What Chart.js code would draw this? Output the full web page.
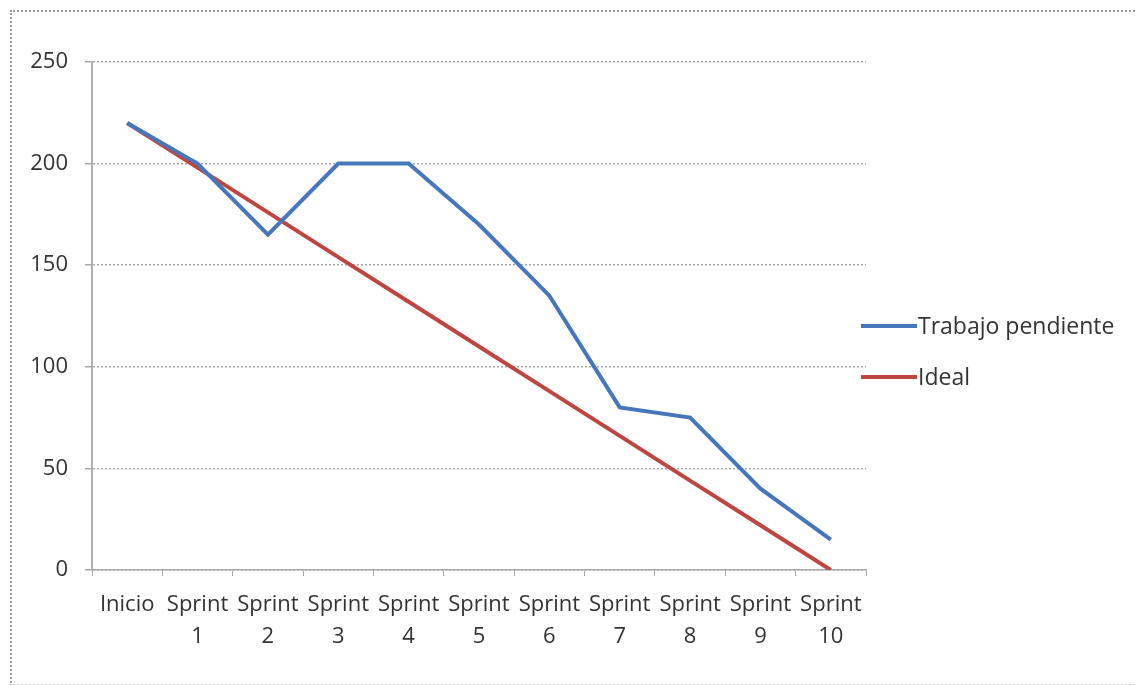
<!DOCTYPE html>
<html>
<head>
<meta charset="utf-8">
<script src="https://cdn.jsdelivr.net/npm/chart.js@4"></script>
<style>
  html, body { margin: 0; padding: 0; background: #fff; overflow: hidden; }
  #wrap { position: relative; width: 1135px; height: 685px; }
  #frame { position: absolute; left: 10px; top: 10px; width: 1135px; height: 672px;
           border-left: 2px dotted #9a9a9a; border-top: 2px dotted #9a9a9a; border-bottom: 2px dotted #d0d0d0; }
  canvas { position: absolute; left: 0; top: 0; }
</style>
</head>
<body>
<div id="wrap">
  <div id="frame"></div>
  <canvas id="c" width="1135" height="685"></canvas>
</div>
<script>
// Burndown: remaining work per sprint vs. the ideal line
const categories = ['Inicio', ['Sprint', '1'], ['Sprint', '2'], ['Sprint', '3'], ['Sprint', '4'],
  ['Sprint', '5'], ['Sprint', '6'], ['Sprint', '7'], ['Sprint', '8'], ['Sprint', '9'], ['Sprint', '10']];
const trabajoPendiente = [220, 200, 165, 200, 200, 170, 135, 80, 75, 40, 15];
const ideal = [220, 198, 176, 154, 132, 110, 88, 66, 44, 22, 0];
const yTicks = [0, 50, 100, 150, 200, 250];

const FONT = '"Open Sans", "Noto Sans", sans-serif';
const TEXT = '#333333';
const SIZE = 22;

// Legend at the right, built from the dataset labels and colours
const sideLegend = {
  id: 'sideLegend',
  afterDraw(chart) {
    const ctx = chart.ctx;
    const rows = [327, 378];
    ctx.save();
    chart.data.datasets.forEach((ds, i) => {
      const y = rows[i];
      ctx.strokeStyle = ds.borderColor;
      ctx.lineWidth = ds.borderWidth;
      ctx.beginPath();
      ctx.moveTo(861, y - 1);
      ctx.lineTo(917, y - 1);
      ctx.stroke();
      ctx.fillStyle = TEXT;
      ctx.font = '23px ' + FONT;
      ctx.textBaseline = 'middle';
      ctx.textAlign = 'left';
      ctx.fillText(ds.label, 918, y);
    });
    ctx.restore();
  }
};

new Chart(document.getElementById('c'), {
  type: 'line',
  data: {
    labels: categories,
    datasets: [
      { label: 'Trabajo pendiente', data: trabajoPendiente, borderColor: '#4677bd',
        borderWidth: 4, pointRadius: 0, tension: 0, fill: false },
      { label: 'Ideal', data: ideal, borderColor: '#bf4541',
        borderWidth: 4, pointRadius: 0, tension: 0, fill: false }
    ]
  },
  options: {
    responsive: false,
    animation: false,
    events: [],
    layout: { padding: { left: 0, top: 62, right: 269, bottom: 0 } },
    plugins: { legend: { display: false }, tooltip: { enabled: false } },
    scales: {
      x: {
        offset: true,
        afterFit(scale) { scale.height = 115; },
        grid: { offset: true, drawOnChartArea: false, drawTicks: true, tickLength: 6, color: '#a8a8a8' },
        border: { display: true, color: '#a8a8a8', width: 1.5, dash: [2, 2] },
        ticks: { color: TEXT, font: { family: FONT, size: SIZE, lineHeight: 1.45 }, padding: 13,
                 maxRotation: 0, autoSkip: false }
      },
      y: {
        min: 0, max: 250,
        afterFit(scale) { scale.width = 92; },
        afterBuildTicks(scale) { scale.ticks = yTicks.map(v => ({ value: v })); },
        grid: { color: '#a6a6a6', lineWidth: 1.5, tickLength: 7, drawTicks: true },
        border: { display: true, color: '#b0b0b0', width: 2, dash: [2, 2] },
        ticks: { color: TEXT, font: { family: FONT, size: SIZE }, padding: 17 }
      }
    }
  },
  plugins: [sideLegend]
});
</script>
</body>
</html>
